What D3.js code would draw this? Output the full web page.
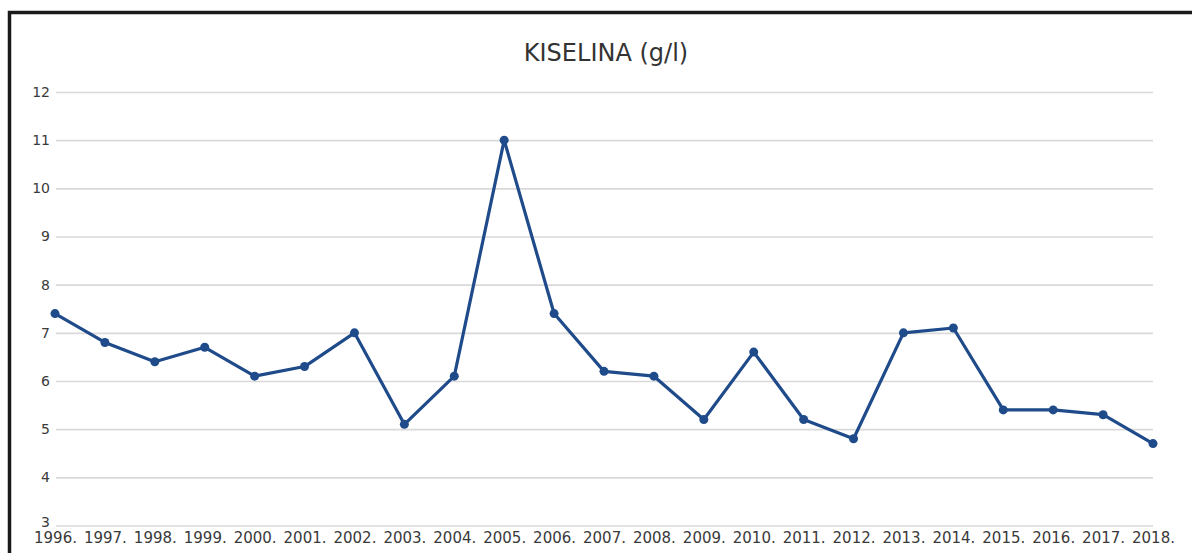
<!DOCTYPE html>
<html><head><meta charset="utf-8">
<script src="https://cdn.jsdelivr.net/npm/d3@7/dist/d3.min.js"></script>
<style>body{margin:0;background:#fff}svg{display:block}</style>
</head><body>
<script>
const years = ["1996.","1997.","1998.","1999.","2000.","2001.","2002.","2003.","2004.","2005.","2006.","2007.","2008.","2009.","2010.","2011.","2012.","2013.","2014.","2015.","2016.","2017.","2018."];
const values = [7.4,6.8,6.4,6.7,6.1,6.3,7.0,5.1,6.1,11.0,7.4,6.2,6.1,5.2,6.6,5.2,4.8,7.0,7.1,5.4,5.4,5.3,4.7];
const yTicks = [3,4,5,6,7,8,9,10,11,12];
const title = "KISELINA (g/l)";

const W = 1192, H = 553;
const svg = d3.select("body").append("svg").attr("width", W).attr("height", H);
svg.append("rect").attr("width", W).attr("height", H).attr("fill", "#fff");
svg.append("rect").attr("x", 9.5).attr("y", 12.5).attr("width", 1300).attr("height", 700)
  .attr("fill", "none").attr("stroke", "#1a1a1a").attr("stroke-width", 3.5);

const x = d3.scalePoint().domain(years).range([55, 1153]);
const y = d3.scaleLinear().domain([3, 12]).range([525.5, 92]);
const font = "DejaVu Sans, sans-serif";

svg.append("text").attr("x", 606).attr("y", 61).attr("text-anchor", "middle")
  .attr("font-family", font).attr("font-size", 24).attr("fill", "#333").text(title);

const yAxis = svg.append("g").attr("transform", "translate(56,0)")
  .call(d3.axisLeft(y).tickValues(yTicks).tickSize(-1097).tickPadding(6).tickFormat(d3.format("d")));
yAxis.select(".domain").remove();
yAxis.selectAll(".tick line").attr("stroke", "#d9d9d9").attr("stroke-width", 1.6);
yAxis.selectAll(".tick text").attr("font-family", font).attr("font-size", 14).attr("fill", "#3a3a3a");
yAxis.selectAll(".tick").filter(d => d === 3).select("text").attr("dy", "0.1em");

const xAxis = svg.append("g").attr("transform", "translate(0,530)")
  .call(d3.axisBottom(x).tickSize(0).tickPadding(2));
xAxis.select(".domain").remove();
xAxis.selectAll(".tick text").attr("font-family", font).attr("font-size", 15).attr("fill", "#3a3a3a");

const pts = years.map((d, i) => [x(d), y(values[i])]);
svg.append("path").attr("d", d3.line()(pts)).attr("fill", "none")
  .attr("stroke", "#1f4b8a").attr("stroke-width", 3.2).attr("stroke-linejoin", "round");
svg.selectAll("circle.p").data(pts).enter().append("circle")
  .attr("cx", d => d[0]).attr("cy", d => d[1]).attr("r", 4.5).attr("fill", "#1f4b8a");
</script>
</body></html>
